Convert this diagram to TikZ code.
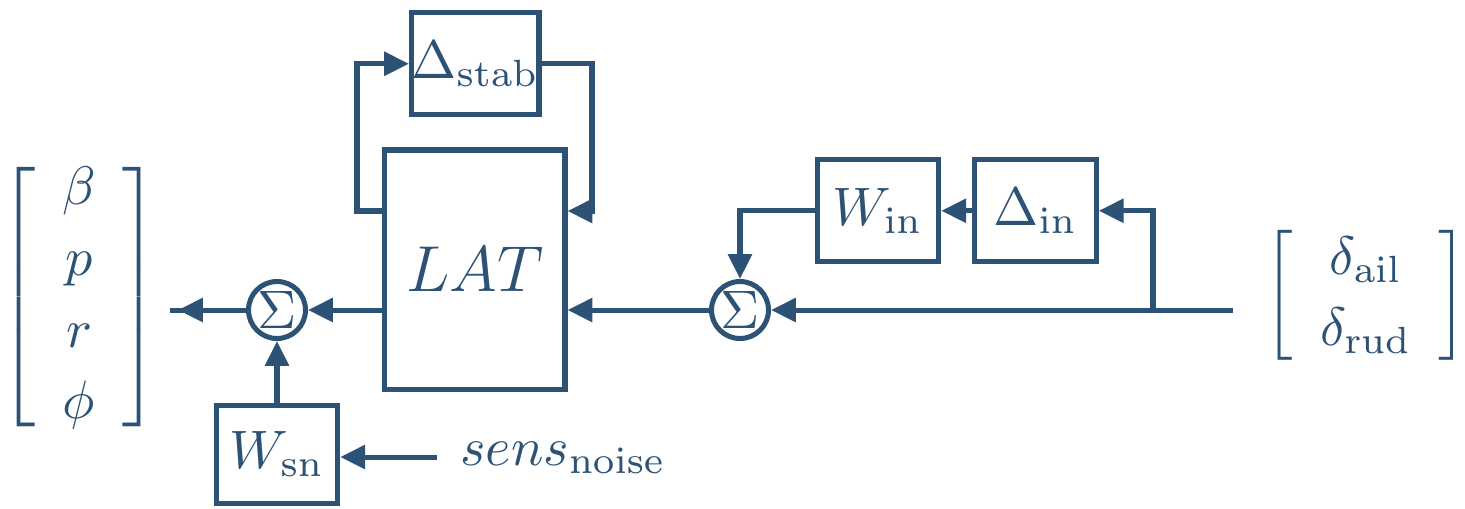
\documentclass[tikz,border=0pt]{standalone}
\usetikzlibrary{arrows.meta}
\definecolor{mainblue}{RGB}{44,82,117}
\begin{document}
\begin{tikzpicture}[x=0.1846pt,y=-0.1846pt,
  color=mainblue, line width=0.93pt,
  blk/.style={draw, inner sep=0pt, minimum width={121.5*0.1846pt}, minimum height={102*0.1846pt}},
  sumnode/.style={draw, circle, inner sep=0pt, minimum size={57*0.1846pt}},
  arr/.style={-{Triangle[length=4.6pt,width=4.3pt]}}]
\useasboundingbox (0,0) rectangle (1465,508);
% blocks
\node[blk] (stab) at (475.25,63.75) {$\Delta_{\mathrm{stab}}$};
\node[draw, inner sep=0pt, minimum width={180.5*0.1846pt}, minimum height={239.5*0.1846pt}] (LAT) at (474.75,269.75) {\large $LAT$};
\node[blk] (Win) at (878,210.75) {$W_{\mathrm{in}}$};
\node[blk] (Din) at (1035.5,210.75) {$\Delta_{\mathrm{in}}$};
\node[blk, minimum height={97.5*0.1846pt}] (Wsn) at (277,454.25) {$W_{\mathrm{sn}}$};
\node[sumnode] (sumL) at (277,310) {$\Sigma$};
\node[sumnode] (sumR) at (740,310) {$\Sigma$};
\node[inner sep=0pt, anchor=base west] (sens) at (458,465) {$sens_{\mathrm{noise}}$};
\node[inner sep=0pt] (outv) at (79,297) {\renewcommand{\arraystretch}{1.1}$\left[\begin{array}{c}\beta\\ p\\ r\\ \phi\end{array}\right]$};
\node[inner sep=0pt] (inv) at (1366,295.5) {\renewcommand{\arraystretch}{1.1}$\left[\begin{array}{c}\delta_{\mathrm{ail}}\\ \delta_{\mathrm{rud}}\end{array}\right]$};
% coordinates
\coordinate (a1) at (357,211);
\coordinate (a2) at (357,63.75);
\coordinate (b1) at (592,63.75);
\coordinate (b2) at (592,211);
\coordinate (outtip) at (178,310);
\coordinate (outend) at (170,310);
\coordinate (sn) at (437,457);
\coordinate (inR) at (1233,310);
\coordinate (br) at (1153,310);
\coordinate (br2) at (1153,210.75);
\coordinate (c1) at (740,210.75);
% connectors
\draw[arr] (LAT.west |- a1) -- (a1) -- (a2) -- (stab.west);
\draw[arr] (stab.east) -- (b1) -- (b2) -- (LAT.east |- b2);
\draw[arr] (LAT.west |- sumL) -- (sumL.east);
\draw (sumL.west) -- (outend);
\draw[arr] (sumL.west) -- (outtip);
\draw[arr] (Wsn.north) -- (sumL.south);
\draw[arr] (sn) -- (Wsn.east |- sn);
\draw[arr] (sumR.west) -- (LAT.east |- sumR);
\draw[arr] (inR) -- (sumR.east);
\draw[arr] (br) -- (br2) -- (Din.east);
\draw[arr] (Din.west) -- (Win.east);
\draw[arr] (Win.west) -- (c1) -- (sumR.north);
\end{tikzpicture}
\end{document}
